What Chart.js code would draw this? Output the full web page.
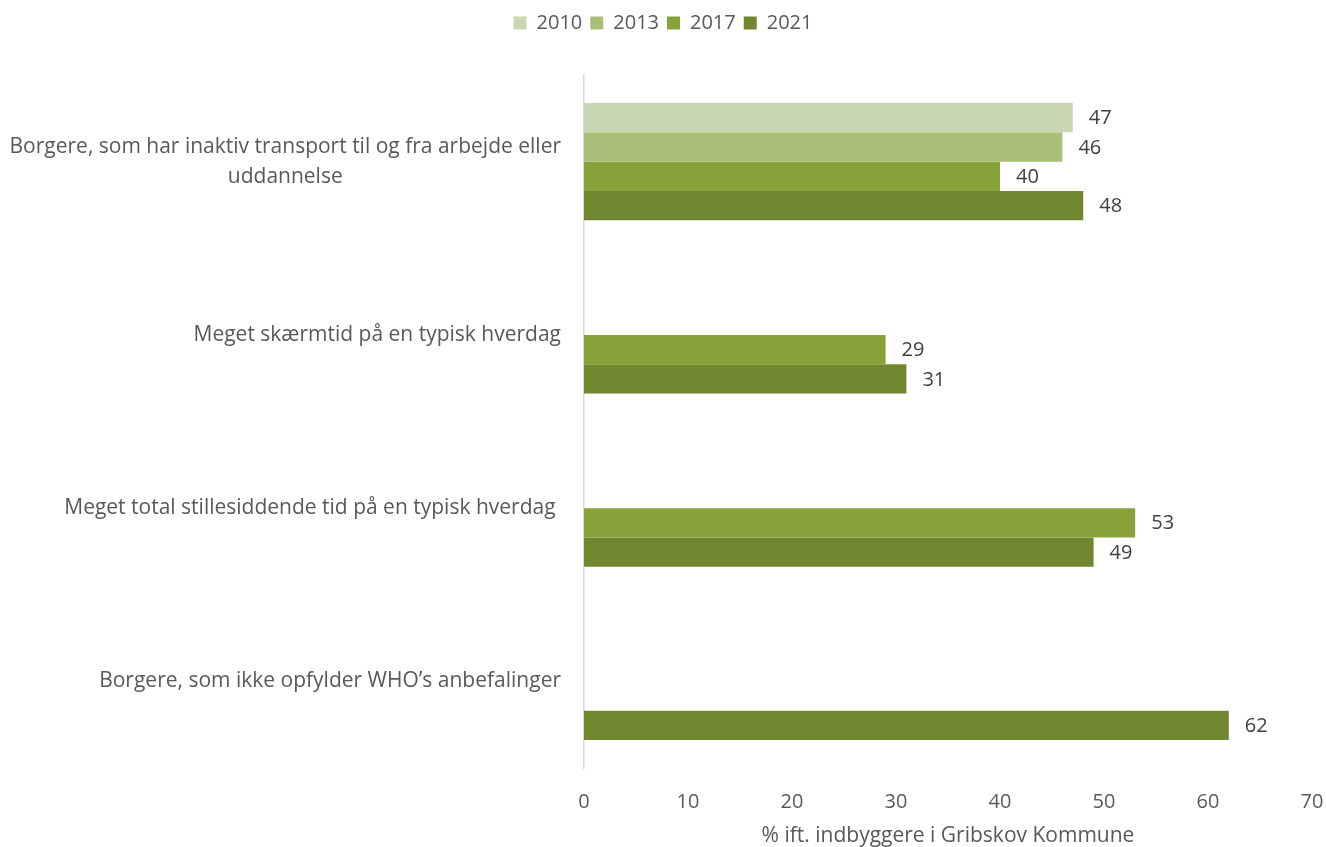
<!DOCTYPE html>
<html>
<head>
<meta charset="utf-8">
<script src="https://cdn.jsdelivr.net/npm/chart.js@4.4.0/dist/chart.umd.min.js"></script>
<style>
html,body{margin:0;padding:0;background:#fff;}
#wrap{width:1326px;height:847px;position:relative;}
</style>
</head>
<body>
<div id="wrap"><canvas id="c" width="1326" height="847"></canvas></div>
<script>
const categories = [
  ["Borgere, som har inaktiv transport til og fra arbejde eller", "uddannelse"],
  ["Meget skærmtid på en typisk hverdag"],
  ["Meget total stillesiddende tid på en typisk hverdag "],
  ["Borgere, som ikke opfylder WHO’s anbefalinger"]
];
const seriesNames = ["2010", "2013", "2017", "2021"];
const values2010 = [47, null, null, null];
const values2013 = [46, null, null, null];
const values2017 = [40, 29, 53, null];
const values2021 = [48, 31, 49, 62];
const xTicks = [0, 10, 20, 30, 40, 50, 60, 70];
const xTitle = "% ift. indbyggere i Gribskov Kommune";

const colors = ["#C8D7B2", "#A8BF78", "#88A33A", "#708730"];
const FONT = "'Open Sans', sans-serif";

const labelPlugin = {
  id: 'labels',
  beforeInit(chart) {
    const lg = chart.legend;
    const orig = lg.fit;
    lg.fit = function() { orig.call(this); this.height += 32; };
  },
  afterDatasetsDraw(chart) {
    const ctx = chart.ctx;
    ctx.save();
    ctx.font = "20px " + FONT;
    ctx.fillStyle = "#404040";
    ctx.textBaseline = "middle";
    ctx.textAlign = "left";
    chart.data.datasets.forEach((ds, di) => {
      const meta = chart.getDatasetMeta(di);
      meta.data.forEach((el, i) => {
        const v = ds.data[i];
        if (v === null || v === undefined) return;
        ctx.fillText(String(v), el.x + 16, el.y + 1);
      });
    });
    const y = chart.scales.y;
    ctx.font = "21px " + FONT;
    ctx.fillStyle = "#595959";
    ctx.textAlign = "center";
    categories.forEach((lines, i) => {
      const cy = y.getPixelForValue(i);
      let maxW = 0;
      lines.forEach(l => { maxW = Math.max(maxW, ctx.measureText(l).width); });
      const right = y.right - 23;
      const cx = right - maxW / 2;
      const lh = 30;
      const start = cy - (lines.length - 1) * lh / 2;
      lines.forEach((l, k) => ctx.fillText(l, cx, start + k * lh));
    });
    ctx.restore();
  }
};

new Chart(document.getElementById('c'), {
  type: 'bar',
  data: {
    labels: categories.map(c => c.join(' ')),
    datasets: [
      { label: seriesNames[0], data: values2010, backgroundColor: colors[0] },
      { label: seriesNames[1], data: values2013, backgroundColor: colors[1] },
      { label: seriesNames[2], data: values2017, backgroundColor: colors[2] },
      { label: seriesNames[3], data: values2021, backgroundColor: colors[3] }
    ]
  },
  options: {
    indexAxis: 'y',
    responsive: false,
    animation: false,
    datasets: { bar: { categoryPercentage: 0.677, barPercentage: 1.0, borderWidth: 0 } },
    layout: { padding: { top: 5, right: 0, bottom: 0, left: 0 } },
    plugins: {
      legend: {
        position: 'top',
        labels: {
          font: { family: FONT, size: 20 },
          color: "#595959",
          boxWidth: 13, boxHeight: 13,
          padding: 8
        }
      },
      tooltip: { enabled: false }
    },
    scales: {
      x: {
        min: 0, max: 70,
        afterBuildTicks(scale) { scale.ticks = xTicks.map(v => ({ value: v })); },
        afterFit(scale) { scale.paddingRight = 14; scale.height = 79; },
        grid: { display: false },
        border: { display: false },
        ticks: { font: { family: FONT, size: 20 }, color: "#595959", padding: 14 },
        title: { display: true, text: xTitle, font: { family: FONT, size: 21, lineHeight: 1.0 }, color: "#595959", padding: { top: 0, bottom: 0 } }
      },
      y: {
        grid: { display: false },
        border: { display: true, color: "#D9D9D9", width: 1.5 },
        ticks: { display: false },
        afterFit(scale) { scale.width = 584; }
      }
    }
  },
  plugins: [labelPlugin]
});
</script>
</body>
</html>
